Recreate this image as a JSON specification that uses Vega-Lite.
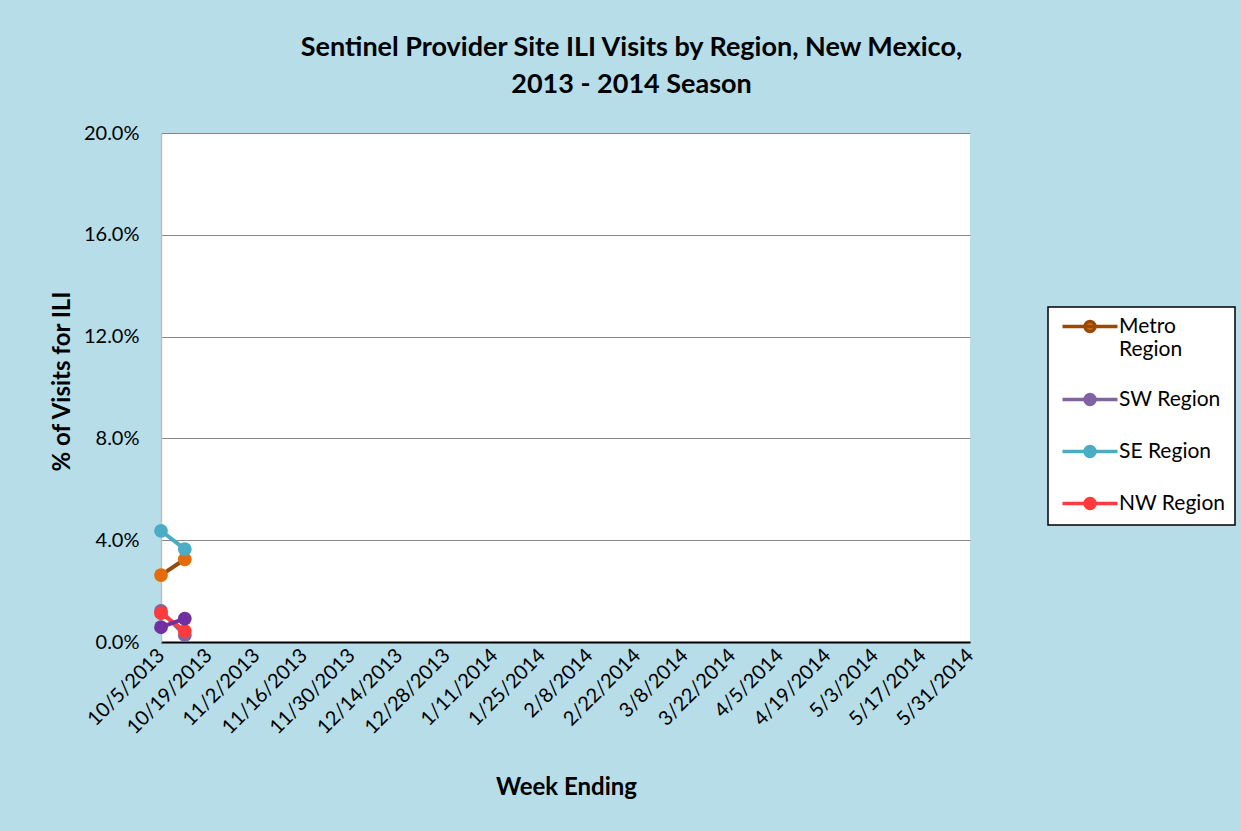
{
  "$schema": "https://vega.github.io/schema/vega-lite/v6.json",
  "width": 809,
  "height": 509,
  "autosize": {"type": "none"},
  "padding": {"left": 161, "top": 133, "right": 271, "bottom": 189},
  "background": "#b7dde8",
  "config": {
    "view": {"fill": "white", "stroke": null},
    "font": "Lato"
  },
  "title": {
    "text": ["Sentinel Provider Site ILI Visits by Region, New Mexico,", "2013 - 2014 Season"],
    "font": "Lato",
    "fontSize": 27,
    "fontWeight": "bold",
    "color": "black",
    "anchor": "middle",
    "dx": 66,
    "baseline": "alphabetic",
    "offset": 3,
    "lineHeight": 37
  },
  "data": {
    "values": [
      {"week": "2013-10-05", "region": "Metro Region", "pct": 0.0263},
      {"week": "2013-10-12", "region": "Metro Region", "pct": 0.0325},
      {"week": "2013-10-05", "region": "SW Region", "pct": 0.0122},
      {"week": "2013-10-12", "region": "SW Region", "pct": 0.0027},
      {"week": "2013-10-05", "region": "SE Region", "pct": 0.0437},
      {"week": "2013-10-12", "region": "SE Region", "pct": 0.0365},
      {"week": "2013-10-05", "region": "NW Region", "pct": 0.0113},
      {"week": "2013-10-12", "region": "NW Region", "pct": 0.0043},
      {"week": "2013-10-05", "region": "NE Region", "pct": 0.0058},
      {"week": "2013-10-12", "region": "NE Region", "pct": 0.0092}
    ]
  },
  "encoding": {
    "x": {
      "field": "week",
      "type": "temporal",
      "scale": {
        "type": "utc",
        "domain": [
          {"year": 2013, "month": 10, "date": 5, "utc": true},
          {"year": 2014, "month": 5, "date": 31, "utc": true}
        ]
      },
      "axis": {
        "title": "Week Ending",
        "titleFont": "Lato",
        "titleFontSize": 24,
        "titleFontWeight": "bold",
        "titleColor": "black",
        "titleX": 405,
        "titleY": 145,
        "titleBaseline": "middle",
        "values": [
          {"year": 2013, "month": 10, "date": 5, "utc": true},
          {"year": 2013, "month": 10, "date": 19, "utc": true},
          {"year": 2013, "month": 11, "date": 2, "utc": true},
          {"year": 2013, "month": 11, "date": 16, "utc": true},
          {"year": 2013, "month": 11, "date": 30, "utc": true},
          {"year": 2013, "month": 12, "date": 14, "utc": true},
          {"year": 2013, "month": 12, "date": 28, "utc": true},
          {"year": 2014, "month": 1, "date": 11, "utc": true},
          {"year": 2014, "month": 1, "date": 25, "utc": true},
          {"year": 2014, "month": 2, "date": 8, "utc": true},
          {"year": 2014, "month": 2, "date": 22, "utc": true},
          {"year": 2014, "month": 3, "date": 8, "utc": true},
          {"year": 2014, "month": 3, "date": 22, "utc": true},
          {"year": 2014, "month": 4, "date": 5, "utc": true},
          {"year": 2014, "month": 4, "date": 19, "utc": true},
          {"year": 2014, "month": 5, "date": 3, "utc": true},
          {"year": 2014, "month": 5, "date": 17, "utc": true},
          {"year": 2014, "month": 5, "date": 31, "utc": true}
        ],
        "labelExpr": "utcFormat(datum.value, '%-m/%-d/%Y')",
        "labelAngle": -45,
        "labelAlign": "right",
        "labelBaseline": "middle",
        "labelFont": "Lato",
        "labelFontSize": 20,
        "labelColor": "black",
        "labelPadding": 10,
        "labelOverlap": false,
        "labelBound": false,
        "labelFlush": false,
        "ticks": false,
        "grid": false,
        "domainColor": "black",
        "domainWidth": 2
      }
    },
    "y": {
      "field": "pct",
      "type": "quantitative",
      "scale": {"domain": [0, 0.2], "nice": false},
      "axis": {
        "title": "% of Visits for ILI",
        "titleFont": "Lato",
        "titleFontSize": 24,
        "titleFontWeight": "bold",
        "titleColor": "black",
        "titleX": -99,
        "titleY": 248,
        "titleAlign": "center",
        "titleBaseline": "middle",
        "values": [0, 0.04, 0.08, 0.12, 0.16, 0.2],
        "format": ".1%",
        "labelFont": "Lato",
        "labelFontSize": 20,
        "labelColor": "black",
        "labelPadding": 22,
        "ticks": false,
        "grid": true,
        "gridColor": "#868686",
        "gridWidth": 1,
        "domainColor": "#bfbfbf",
        "domainWidth": 1.5
      }
    }
  },
  "layer": [
    {
      "transform": [{"filter": "datum.region != 'NE Region'"}],
      "mark": {"type": "line", "strokeWidth": 4},
      "encoding": {
        "stroke": {
          "field": "region",
          "type": "nominal",
          "scale": {
            "domain": ["Metro Region", "SW Region", "SE Region", "NW Region"],
            "range": ["#984807", "#8064a2", "#4bacc6", "#ff3b3b"]
          },
          "legend": {
            "orient": "none",
            "legendX": 887,
            "legendY": 174,
            "title": null,
            "symbolType": "M-1,0L10,0M5.5,0A1,1,0,1,1,3.5,0A1,1,0,1,1,5.5,0Z",
            "symbolSize": 100,
            "symbolStrokeWidth": 3.5,
            "labelFont": "Lato",
            "labelFontSize": 21,
            "labelColor": "black",
            "labelOffset": 41,
            "labelLimit": 0,
            "rowPadding": 27,
            "padding": 9,
            "fillColor": "white",
            "strokeColor": "black",
            "labelExpr": "datum.label == 'Metro Region' ? ['Metro', 'Region'] : datum.label",
            "encode": {
              "symbols": {
                "update": {
                  "fill": {"scale": "fill", "field": "value"},
                  "stroke": {"scale": "stroke", "field": "value"},
                  "strokeWidth": {"value": 3.5},
                  "opacity": {"value": 1}
                }
              },
              "legend": {"update": {"strokeWidth": {"value": 1.5}}}
            }
          }
        }
      }
    },
    {
      "transform": [{"filter": "datum.region != 'NE Region'"}],
      "mark": {"type": "point", "filled": true, "size": 190, "opacity": 1},
      "encoding": {
        "fill": {
          "field": "region",
          "type": "nominal",
          "scale": {
            "domain": ["Metro Region", "SW Region", "SE Region", "NW Region"],
            "range": ["#e46c0a", "#8064a2", "#4bacc6", "#ff3b3b"]
          },
          "legend": null
        }
      }
    },
    {
      "transform": [{"filter": "datum.region == 'NE Region'"}],
      "mark": {"type": "line", "strokeWidth": 4, "color": "#7030a0"},
      "encoding": {}
    },
    {
      "transform": [{"filter": "datum.region == 'NE Region'"}],
      "mark": {"type": "point", "filled": true, "size": 190, "opacity": 1, "color": "#7030a0"},
      "encoding": {}
    }
  ]
}
